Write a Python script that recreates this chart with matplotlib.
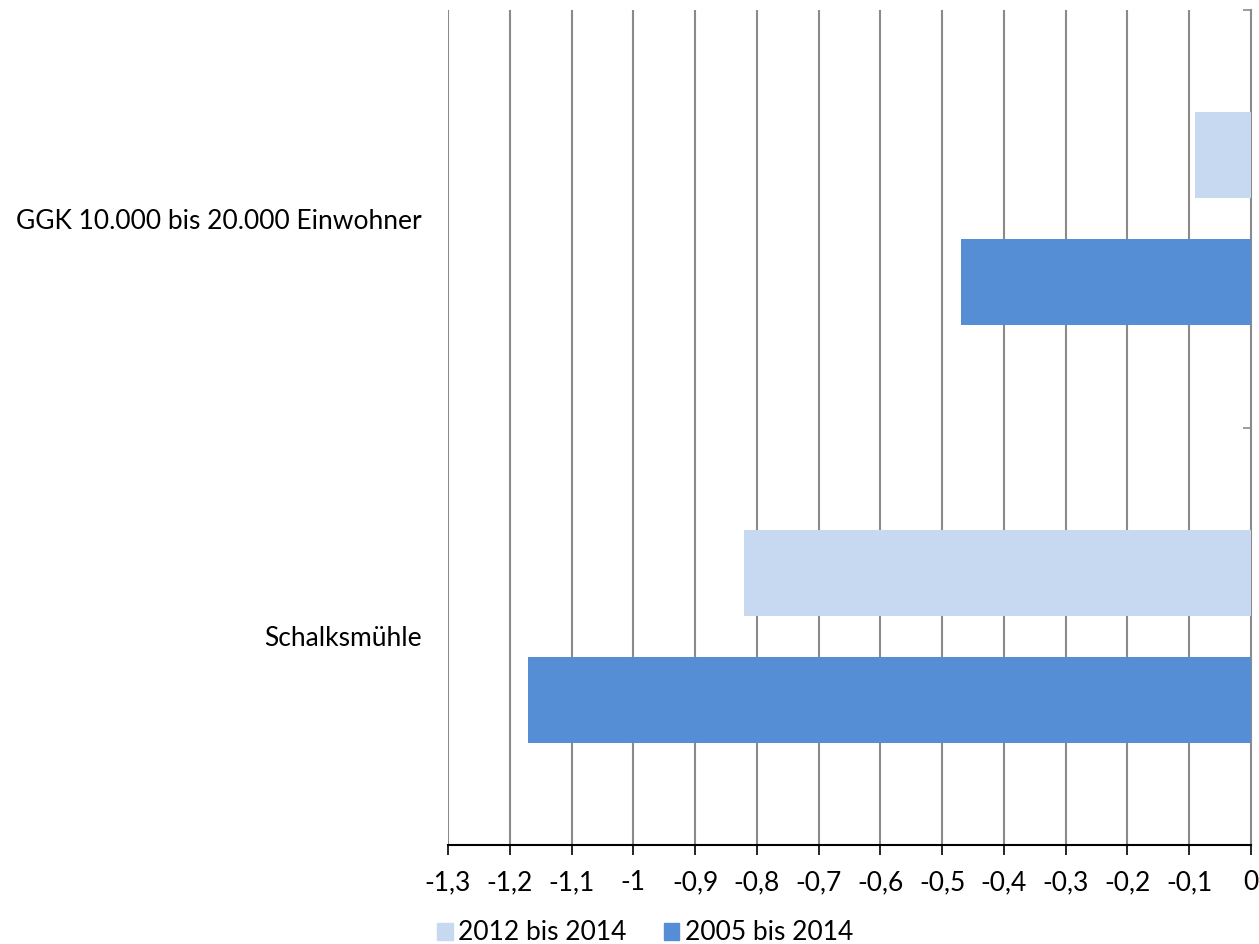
import numpy as np
import matplotlib.pyplot as plt
from matplotlib.patches import Patch

# Daten
kategorien = ['Schalksmühle', 'GGK 10.000 bis 20.000 Einwohner']
werte_2012_2014 = [-0.82, -0.09]
werte_2005_2014 = [-1.17, -0.47]
serien = ['2012 bis 2014', '2005 bis 2014']
farben = ['#C6D9F1', '#558ED5']
x_ticks = [-1.3, -1.2, -1.1, -1.0, -0.9, -0.8, -0.7, -0.6, -0.5, -0.4, -0.3, -0.2, -0.1, 0]
x_labels = ['-1,3', '-1,2', '-1,1', '-1', '-0,9', '-0,8', '-0,7', '-0,6', '-0,5',
            '-0,4', '-0,3', '-0,2', '-0,1', '0']

plt.rcParams['font.family'] = ['Lato', 'DejaVu Sans']

fig = plt.figure(figsize=(12.59, 9.44), dpi=100)
ax = fig.add_axes([448/1259, 1-845/944, (1251-448)/1259, (845-10)/944])

y = np.arange(len(kategorien))
h = 0.206
off = 0.152
ax.barh(y + off, werte_2012_2014, height=h, color=farben[0], zorder=3)
ax.barh(y - off, werte_2005_2014, height=h, color=farben[1], zorder=3)

ax.set_xlim(-1.3, 0)
ax.set_ylim(-0.5, 1.5)

# Gitterlinien
for t in x_ticks[:-1]:
    ax.axvline(t, color='#8a8a8a', lw=1.5, zorder=1)

ax.set_xticks(x_ticks)
ax.set_xticklabels(x_labels, fontsize=19)
ax.tick_params(axis='x', direction='out', length=7, width=1.2, color='black', pad=11)

ax.set_yticks(y)
ax.set_yticklabels(kategorien, fontsize=19)
ax.tick_params(axis='y', which='major', length=0, pad=19)
ax.set_yticks([-0.5, 0.5, 1.5], minor=True)
ax.yaxis.set_tick_params(which='minor', left=False, right=True, direction='in',
                         length=6, width=1.2, color='#8a8a8a')

for s in ['left', 'top']:
    ax.spines[s].set_visible(False)
ax.spines['right'].set_color('#8a8a8a')
ax.spines['right'].set_linewidth(1.5)
ax.spines['bottom'].set_color('black')
ax.spines['bottom'].set_linewidth(1.5)
ax.spines['bottom'].set_zorder(4)

handles = [Patch(color=farben[0], label=serien[0]), Patch(color=farben[1], label=serien[1])]
fig.legend(handles=handles, loc='center', bbox_to_anchor=(645/1259, 1-933/944), ncol=2,
           frameon=False, fontsize=19, handlelength=0.6, handleheight=0.6,
           handletextpad=0.2, columnspacing=1.4, borderaxespad=0)

fig.savefig('out.png', dpi=100)
